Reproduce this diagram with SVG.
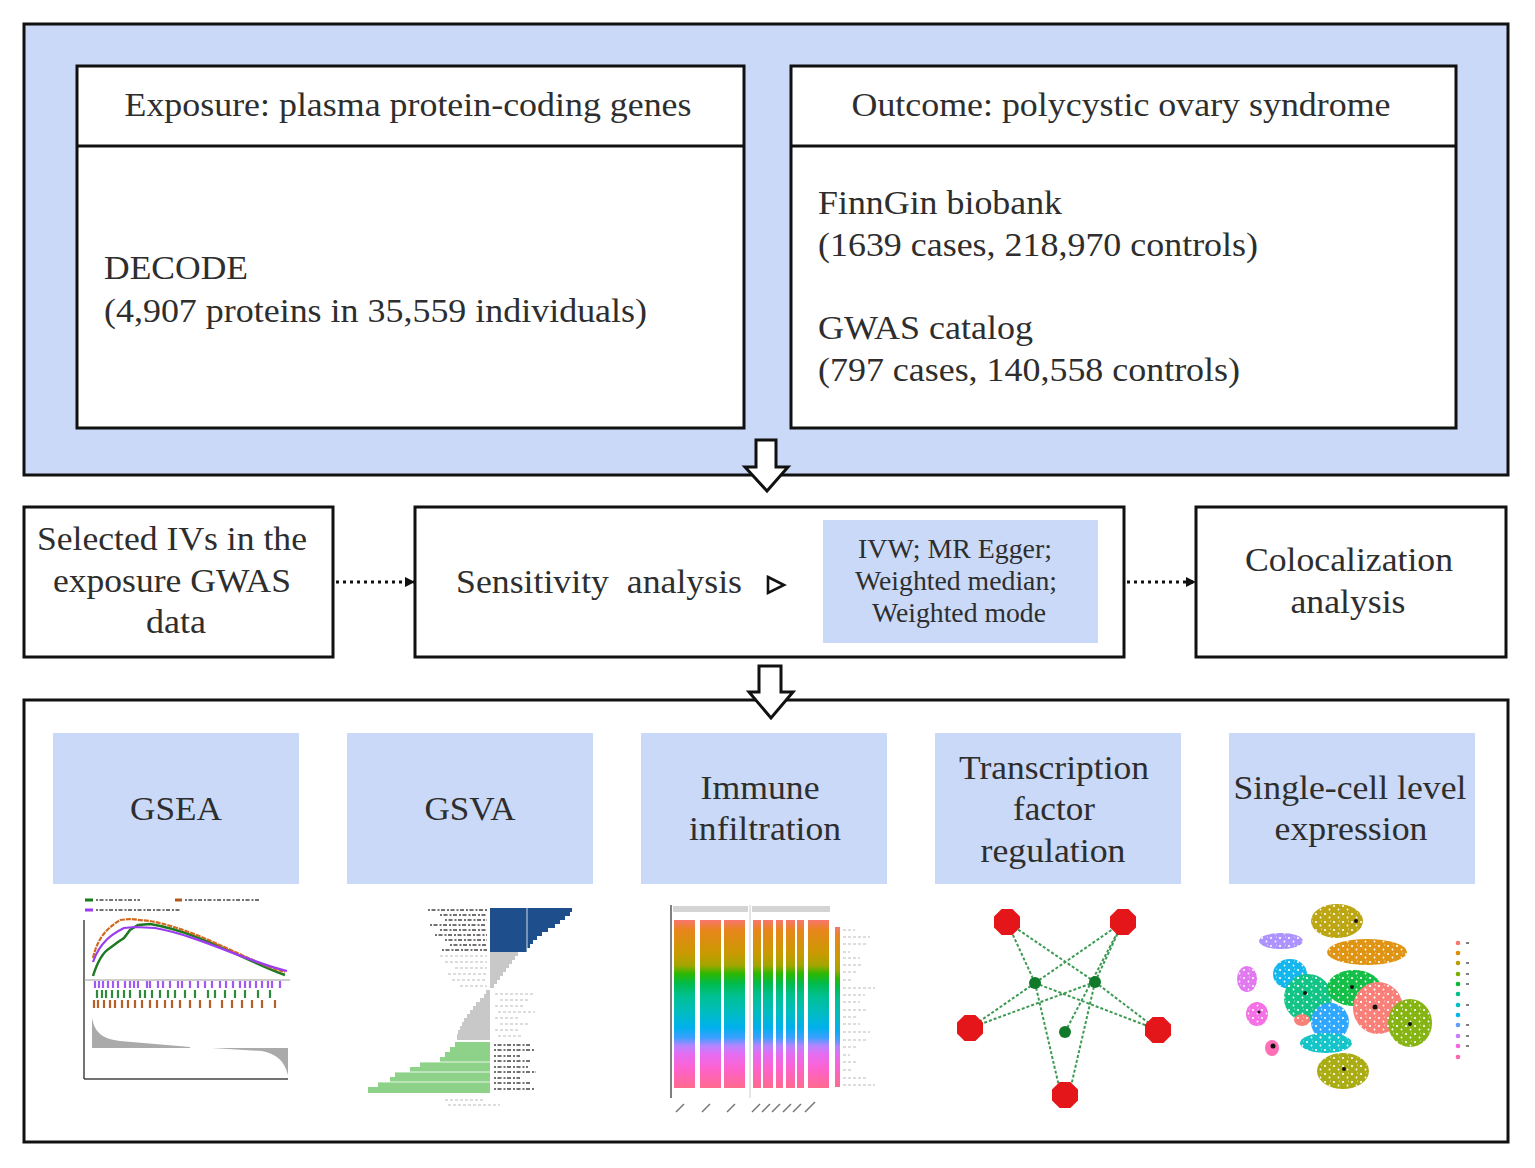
<svg xmlns="http://www.w3.org/2000/svg" width="1535" height="1168" viewBox="0 0 1535 1168">
<style>
.box{fill:#ffffff;stroke:#111;stroke-width:3}
.blue{fill:#c9d9f7}
.t{font-family:"Liberation Serif","Times New Roman",serif;fill:#2e2e2e;font-size:33px}
.ts{font-family:"Liberation Serif","Times New Roman",serif;fill:#2e2e2e;font-size:27px}
.dot{stroke:#111;stroke-width:3;stroke-dasharray:3 4;fill:none}
.arrow{fill:#fff;stroke:#111;stroke-width:3;stroke-linejoin:miter}
.edge{stroke:#3c9a52;stroke-width:2;stroke-dasharray:3 2;fill:none}
.oct{fill:#e5161a}
.gn{fill:#117a2a}
.scr{stroke:#444;stroke-width:1.6;stroke-dasharray:2 1.5 4 2;fill:none}
.scrl{stroke:#bbb;stroke-width:1.2;stroke-dasharray:3 2;fill:none}
.sp{fill:url(#speck)}
</style>
<defs>
<marker id="ah" viewBox="0 0 10 10" refX="9" refY="5" markerWidth="10" markerHeight="10" markerUnits="userSpaceOnUse" orient="auto">
<path d="M0,0 L10,5 L0,10 Z" fill="#111"/>
</marker>
<pattern id="speck" width="9" height="8" patternUnits="userSpaceOnUse">
<circle cx="2" cy="2" r="1.1" fill="#fff"/>
<circle cx="6.5" cy="5.5" r="0.9" fill="#fff"/>
<circle cx="7.5" cy="1" r="0.6" fill="#fff" fill-opacity="0.7"/>
</pattern>
<linearGradient id="imm" x1="0" y1="0" x2="0" y2="1">
<stop offset="0" stop-color="#f8766d"/>
<stop offset="0.06" stop-color="#e8851c"/>
<stop offset="0.2" stop-color="#c99a00"/>
<stop offset="0.27" stop-color="#a3a500"/>
<stop offset="0.32" stop-color="#2cb800"/>
<stop offset="0.38" stop-color="#00bb4e"/>
<stop offset="0.45" stop-color="#00c090"/>
<stop offset="0.55" stop-color="#00bcc0"/>
<stop offset="0.64" stop-color="#00b0ec"/>
<stop offset="0.7" stop-color="#3aa0ff"/>
<stop offset="0.75" stop-color="#b784ff"/>
<stop offset="0.8" stop-color="#e56cf2"/>
<stop offset="0.88" stop-color="#fd62d0"/>
<stop offset="1" stop-color="#ff6a8e"/>
</linearGradient>
</defs>

<!-- top section -->
<g id="top-panel">
<rect x="24" y="24" width="1484" height="451" class="blue" stroke="#111" stroke-width="3"/>
</g>
<g id="exposure">
<rect x="77" y="66" width="667" height="362" class="box"/>
<line x1="77" y1="146" x2="744" y2="146" stroke="#111" stroke-width="3"/>
<text class="t" x="408" y="116" text-anchor="middle" textLength="567" lengthAdjust="spacingAndGlyphs">Exposure: plasma protein-coding genes</text>
<text class="t" x="104" y="279" textLength="144" lengthAdjust="spacingAndGlyphs">DECODE</text>
<text class="t" x="104" y="322" textLength="543" lengthAdjust="spacingAndGlyphs">(4,907 proteins in 35,559 individuals)</text>
</g>
<g id="outcome">
<rect x="791" y="66" width="665" height="362" class="box"/>
<line x1="791" y1="146" x2="1456" y2="146" stroke="#111" stroke-width="3"/>
<text class="t" x="1121" y="116" text-anchor="middle" textLength="539" lengthAdjust="spacingAndGlyphs">Outcome: polycystic ovary syndrome</text>
<text class="t" x="818" y="214" textLength="244" lengthAdjust="spacingAndGlyphs">FinnGin biobank</text>
<text class="t" x="818" y="256" textLength="440" lengthAdjust="spacingAndGlyphs">(1639 cases, 218,970 controls)</text>
<text class="t" x="818" y="339" textLength="215" lengthAdjust="spacingAndGlyphs">GWAS catalog</text>
<text class="t" x="818" y="381" textLength="422" lengthAdjust="spacingAndGlyphs">(797 cases, 140,558 controls)</text>
</g>

<!-- middle row -->
<g id="selected-ivs">
<rect x="24" y="507" width="309" height="150" class="box"/>
<text class="t" x="172" y="550" text-anchor="middle" textLength="270" lengthAdjust="spacingAndGlyphs">Selected IVs in the</text>
<text class="t" x="172" y="592" text-anchor="middle" textLength="238" lengthAdjust="spacingAndGlyphs">exposure GWAS</text>
<text class="t" x="176" y="633" text-anchor="middle" textLength="60" lengthAdjust="spacingAndGlyphs">data</text>
</g>
<g id="sensitivity">
<rect x="415" y="507" width="709" height="150" class="box"/>
<text class="t" x="456" y="593" textLength="286" lengthAdjust="spacingAndGlyphs">Sensitivity&#160; analysis</text>
<path d="M768,577 L784,585 L768,593 Z" fill="none" stroke="#111" stroke-width="2.6" stroke-linejoin="miter"/>
<rect x="823" y="520" width="275" height="123" class="blue"/>
<text class="ts" x="955" y="558" text-anchor="middle" textLength="194" lengthAdjust="spacingAndGlyphs">IVW; MR Egger;</text>
<text class="ts" x="956" y="590" text-anchor="middle" textLength="202" lengthAdjust="spacingAndGlyphs">Weighted median;</text>
<text class="ts" x="959" y="622" text-anchor="middle" textLength="174" lengthAdjust="spacingAndGlyphs">Weighted mode</text>
</g>
<g id="colocalization">
<rect x="1196" y="507" width="310" height="150" class="box"/>
<text class="t" x="1349" y="571" text-anchor="middle" textLength="208" lengthAdjust="spacingAndGlyphs">Colocalization</text>
<text class="t" x="1348" y="613" text-anchor="middle" textLength="115" lengthAdjust="spacingAndGlyphs">analysis</text>
</g>

<!-- bottom panel -->
<g id="bottom-panel">
<rect x="24" y="700" width="1484" height="442" class="box"/>
</g>

<g id="connectors">
<line x1="336" y1="582" x2="414" y2="582" class="dot" marker-end="url(#ah)"/>
<line x1="1127" y1="582" x2="1195" y2="582" class="dot" marker-end="url(#ah)"/>
<path d="M756,440 H776 V467 H788 L767,491 L745,467 H756 Z" class="arrow"/>
<path d="M759,666 H781 V692 H793 L771,718 L749,692 H759 Z" class="arrow"/>
</g>

<g id="gsea">
<rect x="53" y="733" width="246" height="151" class="blue"/>
<text class="t" x="176" y="820" text-anchor="middle" font-size="34" textLength="92" lengthAdjust="spacingAndGlyphs">GSEA</text>
<line x1="85" y1="900" x2="93" y2="900" stroke="#1a7a1a" stroke-width="3"/>
<line x1="96" y1="900" x2="140" y2="900" class="scr" stroke-width="1"/>
<line x1="175" y1="900" x2="182" y2="900" stroke="#b5551a" stroke-width="3"/>
<line x1="185" y1="900" x2="260" y2="900" class="scr" stroke-width="1"/>
<line x1="85" y1="910" x2="93" y2="910" stroke="#9b3cf0" stroke-width="3"/>
<line x1="96" y1="910" x2="180" y2="910" class="scr" stroke-width="1"/>
<line x1="84" y1="920" x2="84" y2="1079" stroke="#444" stroke-width="1.5"/>
<line x1="84" y1="1079" x2="288" y2="1079" stroke="#444" stroke-width="1.5"/>
<line x1="84" y1="980" x2="290" y2="980" stroke="#999" stroke-width="1.2"/>
<path d="M93,976 C98,960 103,952 110,948 L118,942 L124,938 L130,930 L138,925 L150,924 C200,932 250,963 285,975" fill="none" stroke="#1d7a22" stroke-width="2.5"/>
<path d="M93,958 C98,936 108,928 120,920 L130,919 L150,921 C200,930 250,963 285,972" fill="none" stroke="#d2691e" stroke-width="2.2" stroke-dasharray="5 1"/>
<path d="M93,962 C100,942 112,934 124,928 L135,927 L155,928 C200,936 250,963 287,971" fill="none" stroke="#9b3cf0" stroke-width="2.2"/>
<path d="M95,981v7M99,981v7M103,981v7M108,981v7M113,981v7M118,981v7M125,981v7M130,981v7M134,981v7M138,981v7M147,981v7M150,981v7M158,981v7M163,981v7M170,981v7M178,981v7M182,981v7M190,981v7M198,981v7M205,981v7M212,981v7M220,981v7M226,981v7M233,981v7M240,981v7M245,981v7M250,981v7M256,981v7M262,981v7M268,981v7M272,981v7M280,981v7" stroke="#a05af0" stroke-width="2.2"/>
<path d="M97,990v8M102,990v8M106,990v8M112,990v8M118,990v8M124,990v8M130,990v8M140,990v8M145,990v8M152,990v8M160,990v8M168,990v8M175,990v8M185,990v8M195,990v8M208,990v8M215,990v8M225,990v8M235,990v8M245,990v8M258,990v8M270,990v8" stroke="#2e8b3a" stroke-width="2.2"/>
<path d="M94,1000v8M98,1000v8M104,1000v8M110,1000v8M115,1000v8M122,1000v8M128,1000v8M135,1000v8M142,1000v8M150,1000v8M157,1000v8M165,1000v8M172,1000v8M180,1000v8M190,1000v8M200,1000v8M210,1000v8M222,1000v8M232,1000v8M242,1000v8M252,1000v8M262,1000v8M275,1000v8" stroke="#b5602a" stroke-width="2.2"/>
<path d="M92,1048 L92,1018 C95,1034 104,1039 120,1041 L190,1047 L190,1048 Z" fill="#aaa"/>
<path d="M212,1048 L262,1051 C276,1054 284,1060 288,1075 L288,1048 Z" fill="#aaa"/>
</g>

<g id="gsva">
<rect x="347" y="733" width="246" height="151" class="blue"/>
<text class="t" x="470" y="820" text-anchor="middle" font-size="34" textLength="91" lengthAdjust="spacingAndGlyphs">GSVA</text>
<path d="M490,908 H572 V912 H570 V916 H565 V920 H560 V924 H555 V928 H548 V932 H542 V936 H537 V940 H533 V944 H530 V948 H527 V952 H490 Z" fill="#1f4e8c"/>
<line x1="527" y1="908" x2="527" y2="952" stroke="#fff" stroke-width="0.8"/>
<path d="M490,952 H518 V956 H515 V960 H512 V964 H509 V968 H506 V972 H503 V976 H500 V980 H497 V984 H494 V988 H490 Z" fill="#c8c8c8"/>
<path d="M490,990 H486 V994 H484 V998 H480 V1002 H476 V1006 H473 V1010 H470 V1014 H467 V1018 H464 V1022 H462 V1026 H460 V1030 H458 V1034 H457 V1040 H490 Z" fill="#c8c8c8"/>
<path d="M490,1042 H455 V1047 H450 V1052 H445 V1057 H440 V1062 H420 V1067 H410 V1072 H395 V1077 H390 V1082 H378 V1087 H368 V1093 H490 Z" fill="#8ed28a"/>
<path d="M368,1062H490M368,1072H490M368,1082H490" stroke="#fff" stroke-width="0.8"/>
<path d="M428,910H487M440,915H487M445,920H487M430,925H487M440,930H487M435,935H487M445,940H487M450,945H487M442,950H487" class="scr"/>
<path d="M440,956H487M445,962H487M455,968H487M448,974H487M452,980H487M460,986H487M495,994H535M500,1000H530M495,1006H525M498,1012H535M495,1018H520M500,1024H528M495,1030H518M498,1036H522" class="scrl"/>
<path d="M494,1045H530M494,1050H535M494,1056H520M494,1061H532M494,1067H528M494,1072H536M494,1078H520M494,1083H530M494,1089H535" class="scr"/>
<path d="M445,1100H485M448,1105H500" class="scrl"/>
</g>

<g id="immune">
<rect x="641" y="733" width="246" height="151" class="blue"/>
<text class="t" x="760" y="799" text-anchor="middle" font-size="34" textLength="119" lengthAdjust="spacingAndGlyphs">Immune</text>
<text class="t" x="765" y="840" text-anchor="middle" font-size="34" textLength="152" lengthAdjust="spacingAndGlyphs">infiltration</text>
<rect x="673" y="906" width="75" height="6" fill="#d4d4d4"/>
<rect x="752" y="906" width="78" height="6" fill="#d4d4d4"/>
<line x1="671" y1="905" x2="671" y2="1098" stroke="#555" stroke-width="1.5"/>
<line x1="750" y1="905" x2="750" y2="1098" stroke="#ccc" stroke-width="1"/>
<rect x="674" y="920" width="21" height="168" fill="url(#imm)"/>
<rect x="700" y="920" width="21" height="168" fill="url(#imm)"/>
<rect x="724" y="920" width="21" height="168" fill="url(#imm)"/>
<rect x="753" y="920" width="8" height="168" fill="url(#imm)"/>
<rect x="763" y="920" width="10" height="168" fill="url(#imm)"/>
<rect x="776" y="920" width="7" height="168" fill="url(#imm)"/>
<rect x="786" y="920" width="9" height="168" fill="url(#imm)"/>
<rect x="797" y="920" width="7" height="168" fill="url(#imm)"/>
<rect x="808" y="920" width="21" height="168" fill="url(#imm)"/>
<rect x="835" y="927" width="5" height="160" fill="url(#imm)"/>
<path d="M843,930H855M843,937H870M843,944H868M843,952H850M843,958H860M843,965H862M843,972H858M843,980H852M843,988H875M843,995H865M843,1002H860M843,1010H866M843,1017H858M843,1024H860M843,1032H870M843,1040H868M843,1047H858M843,1055H850M843,1062H858M843,1070H852M843,1078H868M843,1085H875" class="scrl" stroke="#999"/>
<path d="M676,1112l8,-8M702,1112l8,-8M727,1112l8,-8M752,1112l8,-8M762,1112l8,-8M772,1112l8,-8M783,1112l8,-8M793,1112l8,-8M805,1112l10,-10" stroke="#777" stroke-width="1.5"/>
</g>

<g id="tf-regulation">
<rect x="935" y="733" width="246" height="151" class="blue"/>
<text class="t" x="1054" y="779" text-anchor="middle" font-size="34" textLength="190" lengthAdjust="spacingAndGlyphs">Transcription</text>
<text class="t" x="1054" y="820" text-anchor="middle" font-size="34" textLength="82" lengthAdjust="spacingAndGlyphs">factor</text>
<text class="t" x="1053" y="862" text-anchor="middle" font-size="34" textLength="145" lengthAdjust="spacingAndGlyphs">regulation</text>
<path d="M1035,983L1007,922M1035,983L1123,922M1035,983L970,1028M1035,983L1158,1030M1035,983L1061,1095M1095,982L1007,922M1095,982L1123,922M1095,982L970,1028M1095,982L1158,1030M1095,982L1069,1095M1065,1032L1123,922" class="edge"/>
<polygon points="1001.6,909 1012.4,909 1020,916.6 1020,927.4 1012.4,935 1001.6,935 994,927.4 994,916.6" class="oct"/>
<polygon points="1117.6,909 1128.4,909 1136,916.6 1136,927.4 1128.4,935 1117.6,935 1110,927.4 1110,916.6" class="oct"/>
<polygon points="964.6,1015 975.4,1015 983,1022.6 983,1033.4 975.4,1041 964.6,1041 957,1033.4 957,1022.6" class="oct"/>
<polygon points="1152.6,1017 1163.4,1017 1171,1024.6 1171,1035.4 1163.4,1043 1152.6,1043 1145,1035.4 1145,1024.6" class="oct"/>
<polygon points="1059.6,1082 1070.4,1082 1078,1089.6 1078,1100.4 1070.4,1108 1059.6,1108 1052,1100.4 1052,1089.6" class="oct"/>
<circle cx="1035" cy="983" r="6" class="gn"/>
<circle cx="1095" cy="982" r="6" class="gn"/>
<circle cx="1065" cy="1032" r="6" class="gn"/>
</g>

<g id="single-cell">
<rect x="1229" y="733" width="246" height="151" class="blue"/>
<text class="t" x="1350" y="799" text-anchor="middle" font-size="34" textLength="233" lengthAdjust="spacingAndGlyphs">Single-cell level</text>
<text class="t" x="1351" y="840" text-anchor="middle" font-size="34" textLength="153" lengthAdjust="spacingAndGlyphs">expression</text>
<g opacity="0.92">
<ellipse cx="1337" cy="921" rx="26" ry="17" fill="#b79f00"/>
<ellipse cx="1367" cy="952" rx="40" ry="13" fill="#de8c00"/>
<ellipse cx="1281" cy="941" rx="22" ry="8" fill="#a58aff"/>
<ellipse cx="1290" cy="974" rx="17" ry="15" fill="#00b0ec"/>
<ellipse cx="1308" cy="998" rx="24" ry="24" fill="#00bf7d"/>
<ellipse cx="1354" cy="988" rx="27" ry="18" fill="#00ba38"/>
<ellipse cx="1378" cy="1008" rx="25" ry="26" fill="#f8766d"/>
<ellipse cx="1410" cy="1023" rx="22" ry="24" fill="#7cae00"/>
<ellipse cx="1330" cy="1022" rx="19" ry="19" fill="#1fa0ff"/>
<ellipse cx="1326" cy="1043" rx="26" ry="10" fill="#00bfc4"/>
<ellipse cx="1343" cy="1071" rx="26" ry="18" fill="#a3a500"/>
<ellipse cx="1302" cy="1020" rx="8" ry="6" fill="#f8766d"/>
<ellipse cx="1247" cy="979" rx="10" ry="13" fill="#e06ef0"/>
<ellipse cx="1257" cy="1014" rx="11" ry="12" fill="#f564e3"/>
<ellipse cx="1272" cy="1048" rx="7" ry="8" fill="#ff64b0"/>
</g>
<g class="sp">
<ellipse cx="1337" cy="921" rx="26" ry="17"/>
<ellipse cx="1367" cy="952" rx="40" ry="13"/>
<ellipse cx="1281" cy="941" rx="22" ry="8"/>
<ellipse cx="1290" cy="974" rx="17" ry="15"/>
<ellipse cx="1308" cy="998" rx="24" ry="24"/>
<ellipse cx="1354" cy="988" rx="27" ry="18"/>
<ellipse cx="1378" cy="1008" rx="25" ry="26"/>
<ellipse cx="1410" cy="1023" rx="22" ry="24"/>
<ellipse cx="1330" cy="1022" rx="19" ry="19"/>
<ellipse cx="1326" cy="1043" rx="26" ry="10"/>
<ellipse cx="1343" cy="1071" rx="26" ry="18"/>
<ellipse cx="1247" cy="979" rx="10" ry="13"/>
<ellipse cx="1257" cy="1014" rx="11" ry="12"/>
</g>
<circle cx="1356" cy="921" r="2" fill="#111"/>
<circle cx="1305" cy="993" r="2" fill="#111"/>
<circle cx="1352" cy="987" r="2" fill="#111"/>
<circle cx="1375" cy="1007" r="2.5" fill="#111"/>
<circle cx="1410" cy="1024" r="2" fill="#111"/>
<circle cx="1344" cy="1069" r="2" fill="#111"/>
<circle cx="1273" cy="1046" r="2.5" fill="#111"/>
<circle cx="1259" cy="1012" r="1.6" fill="#111"/>
<circle cx="1458" cy="943" r="2.3" fill="#f8766d"/>
<circle cx="1458" cy="953" r="2.3" fill="#de8c00"/>
<circle cx="1458" cy="963" r="2.3" fill="#b79f00"/>
<circle cx="1458" cy="974" r="2.3" fill="#7cae00"/>
<circle cx="1458" cy="984" r="2.3" fill="#00ba38"/>
<circle cx="1458" cy="994" r="2.3" fill="#00c08b"/>
<circle cx="1458" cy="1005" r="2.3" fill="#00bfc4"/>
<circle cx="1458" cy="1015" r="2.3" fill="#00b4f0"/>
<circle cx="1458" cy="1025" r="2.3" fill="#619cff"/>
<circle cx="1458" cy="1036" r="2.3" fill="#c77cff"/>
<circle cx="1458" cy="1046" r="2.3" fill="#f564e3"/>
<circle cx="1458" cy="1057" r="2.3" fill="#ff64b0"/>
<path d="M1466,943h3M1466,963h3M1466,974h3M1466,984h3M1466,1005h3M1466,1025h3M1466,1036h3M1466,1046h3" stroke="#555" stroke-width="1.5"/>
</g>
</svg>
